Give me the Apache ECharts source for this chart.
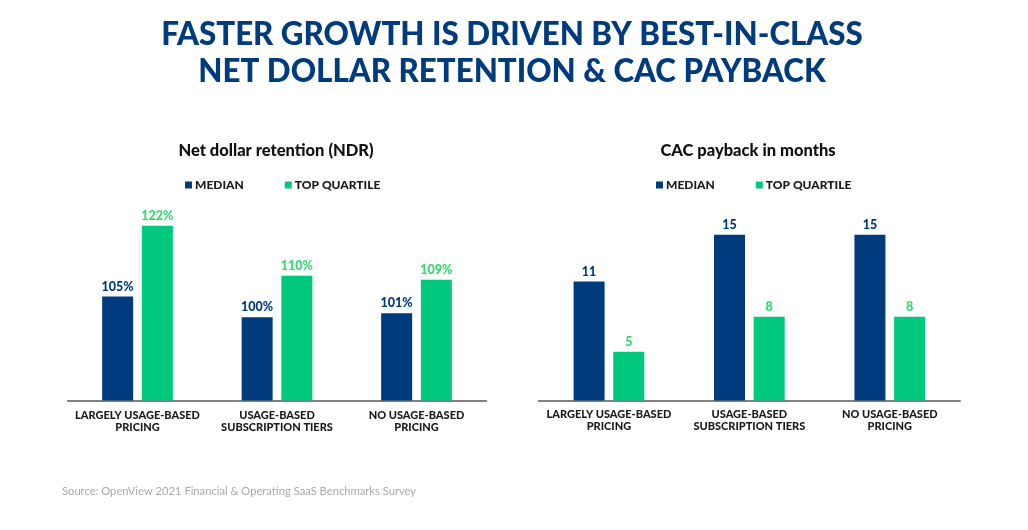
<!DOCTYPE html>
<html>
<head>
<meta charset="utf-8">
<style>html,body{margin:0;padding:0;background:#fff}#chart{width:1028px;height:530px}</style>
<script src="https://cdn.jsdelivr.net/npm/echarts@6/dist/echarts.min.js"></script>
</head>
<body>
<div id="chart"></div>
<script>
// Chart data
const categories = ['LARGELY USAGE-BASED\nPRICING', 'USAGE-BASED\nSUBSCRIPTION TIERS', 'NO USAGE-BASED\nPRICING'];
const ndrMedian = [105, 100, 101];
const ndrTop = [122, 110, 109];
const cacMedian = [11, 15, 15];
const cacTop = [5, 8, 8];
const seriesNames = ['MEDIAN', 'TOP QUARTILE'];

const NAVY = '#003b7e';
const GREEN = '#00c87c';
const GREEN_TEXT = '#35d873';
const FONT = 'Lato';

// Build one bar series
function barSeries(name, data, idx, color, labelColor, fmt) {
    return {
        name: name,
        type: 'bar',
        data: data,
        xAxisIndex: idx,
        yAxisIndex: idx,
        barWidth: 31,
        barGap: '28%',
        itemStyle: { color: color },
        label: {
            show: true,
            position: 'top',
            distance: 3.5,
            formatter: fmt,
            color: labelColor,
            fontFamily: FONT,
            fontWeight: 900,
            fontSize: 12.5
        },
        animation: false
    };
}

function catAxis(idx, margin) {
    return {
        type: 'category',
        gridIndex: idx,
        data: categories,
        axisLine: { lineStyle: { color: '#808080', width: 2 } },
        axisTick: { show: false },
        axisLabel: {
            interval: 0,
            margin: margin,
            color: '#1a1a1a',
            fontFamily: FONT,
            fontWeight: 900,
            fontSize: 11,
            lineHeight: 12
        }
    };
}

function legendAt(left, top, gap) {
    return {
        left: left,
        top: top,
        itemWidth: 7,
        itemHeight: 7,
        itemGap: gap,
        icon: 'rect',
        selectedMode: false,
        data: seriesNames,
        textStyle: {
            color: '#1a1a1a',
            fontFamily: FONT,
            fontWeight: 900,
            fontSize: 12,
            padding: [0, 0, 0, -2]
        }
    };
}

var chart = echarts.init(document.getElementById('chart'));
chart.setOption({
    backgroundColor: '#fff',
    title: [{
        text: 'FASTER GROWTH IS DRIVEN BY BEST-IN-CLASS\nNET DOLLAR RETENTION & CAC PAYBACK',
        left: 507,
        top: 11,
        textAlign: 'center',
        textStyle: { color: NAVY, fontFamily: FONT, fontWeight: 900, fontSize: 31.3, lineHeight: 37 }
    }, {
        text: 'Net dollar retention (NDR)',
        left: 271,
        top: 137,
        textAlign: 'center',
        textStyle: { color: '#111', fontFamily: FONT, fontWeight: 900, fontSize: 16.5 }
    }, {
        text: 'CAC payback in months',
        left: 743,
        top: 137,
        textAlign: 'center',
        textStyle: { color: '#111', fontFamily: FONT, fontWeight: 900, fontSize: 16.5 }
    }, {
        text: 'Source: OpenView 2021 Financial & Operating SaaS Benchmarks Survey',
        left: 57,
        top: 481,
        textStyle: { color: '#a9a9a9', fontFamily: FONT, fontWeight: 400, fontSize: 11.2 }
    }],
    legend: [legendAt(180, 174, 41), legendAt(651, 174, 41)],
    grid: [
        { left: 67.75, top: 192.5, width: 418.5, height: 208 },
        { left: 538.7, top: 192.5, width: 421.3, height: 208 }
    ],
    xAxis: [catAxis(0, 9), catAxis(1, 7.5)],
    yAxis: [
        { type: 'value', gridIndex: 0, min: 80, max: 130, show: false },
        // baseline of the original sits a little above zero
        { type: 'value', gridIndex: 1, min: 0.84, max: 18.6, show: false }
    ],
    series: [
        barSeries(seriesNames[0], ndrMedian, 0, NAVY, NAVY, '{c}%'),
        barSeries(seriesNames[1], ndrTop, 0, GREEN, GREEN_TEXT, '{c}%'),
        barSeries(seriesNames[0], cacMedian, 1, NAVY, NAVY, '{c}'),
        barSeries(seriesNames[1], cacTop, 1, GREEN, GREEN_TEXT, '{c}')
    ]
});
</script>
</body>
</html>
